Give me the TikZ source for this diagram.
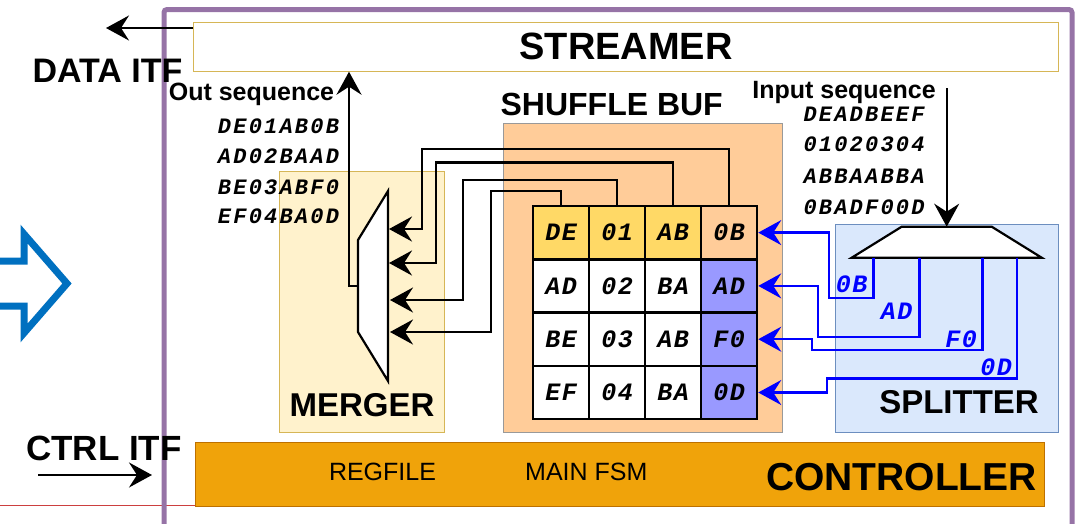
\documentclass[tikz,border=0pt]{standalone}
\usepackage{fontspec}
\setmainfont{Liberation Sans}
\newfontfamily\monof{Liberation Mono}
\usetikzlibrary{arrows.meta}
\definecolor{framec}{HTML}{9673A6}
\definecolor{tanc}{HTML}{D6B656}
\definecolor{mergerc}{HTML}{FFF2CC}
\definecolor{peachc}{HTML}{FFCC99}
\definecolor{yellowc}{HTML}{FFD966}
\definecolor{violc}{HTML}{9999FF}
\definecolor{splitc}{HTML}{DAE8FC}
\definecolor{splitb}{HTML}{6C8EBF}
\definecolor{ctrlc}{HTML}{F0A30A}
\definecolor{ctrlb}{HTML}{BD7000}
\definecolor{bluew}{HTML}{0000FF}
\definecolor{bigarrow}{HTML}{0070C0}
\definecolor{redl}{HTML}{CC3F3F}
\begin{document}
\begin{tikzpicture}[x=1pt,y=-1pt,
  big/.style={font=\bfseries\fontsize{#1}{#1}\selectfont, inner sep=0, anchor=base},
  plain/.style={font=\fontsize{25}{25}\selectfont, inner sep=0, anchor=base},
  seqtxt/.style={font=\monof\bfseries\itshape\fontsize{22}{22}\selectfont\addfontfeature{LetterSpace=10}, inner sep=0, anchor=base},
  cell/.style={draw, line width=2.5pt, minimum width=56pt, minimum height=53.3pt, inner sep=0,
    font=\monof\bfseries\itshape\fontsize{25}{25}\selectfont\addfontfeature{LetterSpace=6}},
  blbl/.style={text=bluew, inner sep=0, font=\monof\bfseries\itshape\fontsize{25}{25}\selectfont\addfontfeature{LetterSpace=6}},
  area/.style={anchor=north west, inner sep=0},
  wire/.style={line width=2.4pt, -{Stealth[length=23pt,width=25pt,inset=8pt]}},
  bwire/.style={draw=bluew, line width=2.4pt, -{Stealth[length=23pt,width=25pt,inset=8pt]}},
]
\useasboundingbox (0,0) rectangle (1076,523);
% red line
\coordinate (redA) at (0,505);
\coordinate (redB) at (196,505);
\draw[redl, line width=1pt] (redA) -- (redB);
% outer frame
\draw[framec, line width=5pt, rounded corners=3pt] (164,9.5) rectangle (1072,560);
% big blue arrow
\draw[bigarrow, fill=white, line width=7pt, miter limit=10]
  (-10,261) -- (24,261) -- (24,234) -- (67,283.5) -- (24,333) -- (24,306) -- (-10,306) -- cycle;
% streamer
\node[area, draw=tanc, fill=white, line width=1.2pt, minimum width=865pt, minimum height=49pt] (streamer) at (193,21.5) {};
\node[big=38, anchor=center] (streamerlbl) at (streamer.center) {STREAMER};
% areas
\node[area, draw=tanc, fill=mergerc, line width=1pt, minimum width=165pt, minimum height=261pt] (merger) at (279,171) {};
\node[area, draw=gray!80, fill=peachc, line width=1.2pt, minimum width=279pt, minimum height=309pt] (shuffle) at (503,123) {};
\node[area, draw=splitb, fill=splitc, line width=1pt, minimum width=223pt, minimum height=208pt] (splitter) at (835,224.3) {};
\node[area, draw=ctrlb, fill=ctrlc, line width=1pt, minimum width=849pt, minimum height=64pt] (controller) at (195,442) {};
% labels
\node[big=34] (dataitf) at (107.5,82) {DATA ITF};
\node[big=35] (ctrlitf) at (104,460) {CTRL ITF};
\node[big=32] (shufflelbl) at (611.7,115) {SHUFFLE BUF};
\node[big=33] (mergerlbl) at (362,416.7) {MERGER};
\node[big=33] (splitterlbl) at (959,413) {SPLITTER};
\node[big=39] (controllerlbl) at (901.5,490) {CONTROLLER};
\node[plain] (regfile) at (382.5,480) {REGFILE};
\node[plain] (mainfsm) at (586.3,480) {MAIN FSM};
\node[big=25] (outseq) at (251.5,100) {Out sequence};
\node[big=25] (inseq) at (844,98.3) {Input sequence};
% sequences
\node[seqtxt] (o1) at (278.5,133.3) {DE01AB0B};
\node[seqtxt] (o2) at (278.5,163.3) {AD02BAAD};
\node[seqtxt] (o3) at (278.5,194) {BE03ABF0};
\node[seqtxt] (o4) at (278.5,223.3) {EF04BA0D};
\node[seqtxt] (i1) at (864,121.7) {DEADBEEF};
\node[seqtxt] (i2) at (864,151.7) {01020304};
\node[seqtxt] (i3) at (864,183.3) {ABBAABBA};
\node[seqtxt] (i4) at (864,214) {0BADF00D};
% grid
\node[cell, fill=yellowc] (c11) at (561,232.6) {DE};
\node[cell, fill=yellowc] (c12) at (617,232.6) {01};
\node[cell, fill=yellowc] (c13) at (673,232.6) {AB};
\node[cell, fill=peachc]  (c14) at (729,232.6) {0B};
\node[cell, fill=white]   (c21) at (561,285.9) {AD};
\node[cell, fill=white]   (c22) at (617,285.9) {02};
\node[cell, fill=white]   (c23) at (673,285.9) {BA};
\node[cell, fill=violc]   (c24) at (729,285.9) {AD};
\node[cell, fill=white]   (c31) at (561,339.2) {BE};
\node[cell, fill=white]   (c32) at (617,339.2) {03};
\node[cell, fill=white]   (c33) at (673,339.2) {AB};
\node[cell, fill=violc]   (c34) at (729,339.2) {F0};
\node[cell, fill=white]   (c41) at (561,392.5) {EF};
\node[cell, fill=white]   (c42) at (617,392.5) {04};
\node[cell, fill=white]   (c43) at (673,392.5) {BA};
\node[cell, fill=violc]   (c44) at (729,392.5) {0D};
% merger mux
\coordinate (mA) at (358,240);
\coordinate (mB) at (388,191);
\coordinate (mC) at (388,381);
\coordinate (mD) at (358,332);
\draw[fill=white, line width=2.2pt, line join=miter] (mA) -- (mB) -- (mC) -- (mD) -- cycle;
\coordinate (m1) at (389,229);
\coordinate (m2) at (389,263);
\coordinate (m3) at (390,300);
\coordinate (m4) at (390,332);
\draw[wire] (c14.north) |- (422,149) |- (m1);
\draw[wire] (c13.north) |- (436,162.5) |- (m2);
\draw[wire] (c12.north) |- (463,180) |- (m3);
\draw[wire] (c11.north) |- (491,191) |- (m4);
\coordinate (mout) at (358,286);
\coordinate (upx) at (349,0);
\draw[wire] (mout) -| (upx |- streamer.south);
% splitter demux
\coordinate (sA) at (901.7,226.7);
\coordinate (sB) at (991.7,226.7);
\coordinate (sC) at (1041.7,257.7);
\coordinate (sD) at (851.7,257.7);
\draw[fill=white, line width=2.2pt, line join=miter] (sA) -- (sB) -- (sC) -- (sD) -- cycle;
\coordinate (inp) at (946.7,88);
\draw[wire] (inp) -- (inp |- sA);
\coordinate (s1) at (873.3,257.7);
\coordinate (s2) at (919.3,257.7);
\coordinate (s3) at (982.3,257.7);
\coordinate (s4) at (1016.7,257.7);
\draw[bwire] (s1) |- (829,297.7) |- (c14.east);
\draw[bwire] (s2) |- (817.7,336.7) |- (c24.east);
\draw[bwire] (s3) |- (811.7,350) |- (c34.east);
\draw[bwire] (s4) |- (826.7,378.3) |- (c44.east);
\node[blbl] (l1) at (851.7,284) {0B};
\node[blbl] (l2) at (896.7,311.5) {AD};
\node[blbl] (l3) at (961,339) {F0};
\node[blbl] (l4) at (996,367.5) {0D};
% interface arrows
\coordinate (dataend) at (106,28);
\draw[wire] (dataend -| streamer.west) -- (dataend);
\coordinate (ctrlA) at (38,475);
\coordinate (ctrlB) at (152,475);
\draw[wire] (ctrlA) -- (ctrlB);
\end{tikzpicture}
\end{document}
